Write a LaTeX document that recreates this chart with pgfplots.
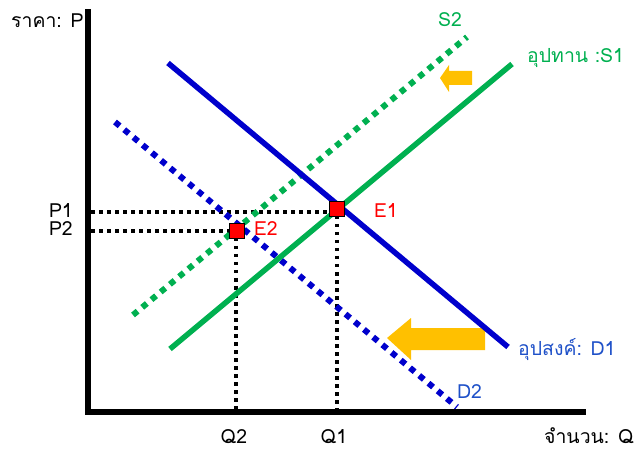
\documentclass[border=0pt]{standalone}
\usepackage{fontspec}
\setmainfont[Script=Thai]{Loma}
\usepackage{pgfplots}
\pgfplotsset{compat=1.18}
\definecolor{dblue}{RGB}{0,0,204}
\definecolor{lblue}{RGB}{30,80,200}
\definecolor{sgreen}{RGB}{0,176,80}
\definecolor{sorange}{RGB}{255,192,0}
\definecolor{sred}{RGB}{255,0,0}
\begin{document}
\begin{tikzpicture}
\begin{axis}[x=1bp,y=1bp,xmin=0,xmax=637,ymin=0,ymax=451,y dir=reverse,
  hide axis,clip=false,scale only axis]
\path (axis cs:0,0) rectangle (axis cs:637,451);
% axes
\addplot[black,line width=5.5bp,line cap=rect] coordinates {(88,12) (88,412)};
\addplot[black,line width=5.5bp] coordinates {(86,412) (586,412)};
% guide lines
\addplot[black,line width=3.5bp,dash pattern=on 3.5bp off 4.5bp] coordinates {(91,212) (332,212)};
\addplot[black,line width=3.5bp,dash pattern=on 3.5bp off 4.5bp] coordinates {(337,216) (337,409)};
\addplot[black,line width=3.5bp,dash pattern=on 3.5bp off 4.5bp] coordinates {(91,231) (230,231)};
\addplot[black,line width=3.5bp,dash pattern=on 3.5bp off 4.5bp] coordinates {(236,238) (236,409)};
% arrows
\addplot[fill=sorange,draw=none] coordinates {(440,78) (449,65) (449,71) (472,71) (472,85) (449,85) (449,92) (440,78)} -- cycle;
\addplot[fill=sorange,draw=none] coordinates {(387,338) (411,318) (411,328) (485,328) (485,350) (411,350) (411,360) (387,338)} -- cycle;
% curves
\addplot[sgreen,line width=6bp,dash pattern=on 6bp off 6bp] coordinates {(133,315) (467,37)};
\addplot[dblue,line width=6bp,dash pattern=on 6bp off 6bp] coordinates {(115,122) (457,407)};
\addplot[dblue,line width=5.5bp] coordinates {(168,63) (508,347)};
\addplot[sgreen,line width=5.5bp] coordinates {(170,349) (512,64)};
% equilibria
\addplot[only marks,mark=square*,mark size=7.5bp,mark options={fill=sred,draw=black,line width=1.8bp}] coordinates {(337,209) (237,231)};
% labels
\tikzset{lab/.style={font=\fontsize{19.5}{22}\selectfont,inner sep=0}}
\node[lab,anchor=base west] at (axis cs:11,28) {ราคา: P};
\node[lab,anchor=base east] at (axis cs:634,443) {จำนวน: Q};
\node[lab,anchor=base,text=sgreen] at (axis cs:450,27) {S2};
\node[lab,anchor=base west,text=sgreen] at (axis cs:527,63) {อุปทาน :S1};
\node[lab,anchor=base west,text=lblue] at (axis cs:518,355) {อุปสงค์: D1};
\node[lab,anchor=base west,text=lblue] at (axis cs:457,398) {D2};
\node[lab,anchor=base west,text=sred] at (axis cs:374,218) {E1};
\node[lab,anchor=base west,text=sred] at (axis cs:254,236) {E2};
\node[lab,anchor=base east] at (axis cs:73,218) {P1};
\node[lab,anchor=base east] at (axis cs:73,236) {P2};
\node[lab,anchor=base] at (axis cs:234,443) {Q2};
\node[lab,anchor=base] at (axis cs:334,443) {Q1};
\end{axis}
\end{tikzpicture}
\end{document}
